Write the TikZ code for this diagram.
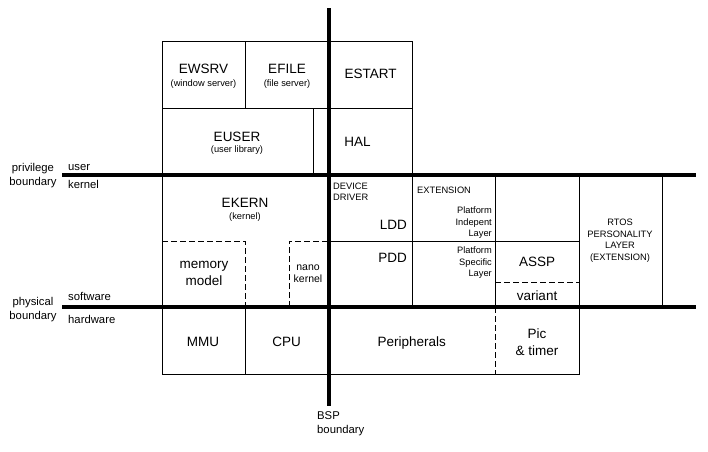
\documentclass[tikz,border=0pt]{standalone}
\usepackage{fontspec}
\setmainfont{Liberation Sans}
\begin{document}
\begin{tikzpicture}[x=1pt,y=-1pt,
    caja/.style={line width=0.9pt},
    rayas/.style={line width=0.9pt,dash pattern=on 6pt off 3pt},
    limite/.style={line width=4.5pt},
    grande/.style={font=\fontsize{13.5}{17}\selectfont,align=center,inner sep=0pt},
    chica/.style={font=\fontsize{9.3}{11.7}\selectfont,align=center,inner sep=0pt},
    lado/.style={font=\fontsize{11.3}{14}\selectfont,inner sep=0pt}]
    \useasboundingbox (0,0) rectangle (708,451);

    % Cajas de usuario
    \draw[caja] (162,41) rectangle (412,175);
    \draw[caja] (162,108) -- (412,108);
    \draw[caja] (245,41) -- (245,108);
    \draw[caja] (313,108) -- (313,175);

    % Cajas del kernel
    \draw[caja] (162,175) rectangle (662,307);
    \draw[caja] (412,175) -- (412,307);
    \draw[caja] (495,175) -- (495,307);
    \draw[caja] (579,175) -- (579,307);
    \draw[caja] (329,241) -- (579,241);
    \draw[rayas] (162,241) -- (245,241) -- (245,307);
    \draw[rayas] (289,307) -- (289,241) -- (329,241);
    \draw[rayas] (495,282) -- (579,282);

    % Cajas de hardware
    \draw[caja] (162,307) rectangle (579,374);
    \draw[caja] (245,307) -- (245,374);
    \draw[rayas] (495,307) -- (495,374);

    % Limites
    \draw[limite] (62,175) -- (696,175);
    \draw[limite] (62,307) -- (696,307);
    \draw[limite] (329,8) -- (329,406);

    % Textos de usuario
    \node[grande,anchor=base] (ewsrv) at (203.5,73.3) {EWSRV};
    \node[chica,anchor=base] (ewsrvsub) at (203.5,86.7) {(window server)};
    \node[grande,anchor=base] (efile) at (287,73.3) {EFILE};
    \node[chica,anchor=base] (efilesub) at (287,86.7) {(file server)};
    \node[grande,anchor=base] (estart) at (370.5,78.3) {ESTART};
    \node[grande,anchor=base] (euser) at (237,141.7) {EUSER};
    \node[chica,anchor=base] (eusersub) at (237,152.3) {(user library)};
    \node[grande,anchor=base] (hal) at (357.5,146.7) {HAL};

    % Textos del kernel
    \node[grande,anchor=base] (ekern) at (245,207.3) {EKERN};
    \node[chica,anchor=base] (ekernsub) at (245,219.3) {(kernel)};
    \node[grande] (memoria) at (204,273.5) {memory\\model};
    \node[font=\fontsize{10.5}{12}\selectfont,align=center,inner sep=0pt] (nano) at (308,274) {nano\\kernel};
    \node[chica,align=left,anchor=north west] (driver) at (333,182.5) {DEVICE\\DRIVER};
    \node[grande,anchor=base east] (ldd) at (407,229.3) {LDD};
    \node[grande,anchor=base east] (pdd) at (407,262.3) {PDD};
    \node[chica,anchor=west] (extension) at (417,190) {EXTENSION};
    \node[chica,align=right,anchor=north east] (indep) at (492,206.5) {Platform\\Indepent\\Layer};
    \node[chica,align=right,anchor=north east] (especif) at (492,246.5) {Platform\\Specific\\Layer};
    \node[grande,anchor=base] (assp) at (537,266.7) {ASSP};
    \node[grande,anchor=base] (variante) at (537,300) {variant};
    \node[chica] (rtos) at (620,240.8) {RTOS\\PERSONALITY\\LAYER\\(EXTENSION)};

    % Textos de hardware
    \node[grande,anchor=base] (mmu) at (203,346.7) {MMU};
    \node[grande,anchor=base] (cpu) at (286.7,346.7) {CPU};
    \node[grande,anchor=base] (perif) at (411.7,346.7) {Peripherals};
    \node[grande] (pic) at (537,341.7) {Pic\\\& timer};

    % Etiquetas de los limites
    \node[lado,align=center] (privilegio) at (33,175.3) {privilege\\boundary};
    \node[lado,anchor=base west] (usuario) at (68,170) {user};
    \node[lado,anchor=base west] (nucleo) at (68,188.3) {kernel};
    \node[lado,align=center] (fisico) at (33,310) {physical\\boundary};
    \node[lado,anchor=base west] (soft) at (68,300) {software};
    \node[lado,anchor=base west] (hard) at (68,323.3) {hardware};
    \node[lado,align=left,anchor=north west] (bsp) at (317,411.5) {BSP\\boundary};
\end{tikzpicture}
\end{document}
